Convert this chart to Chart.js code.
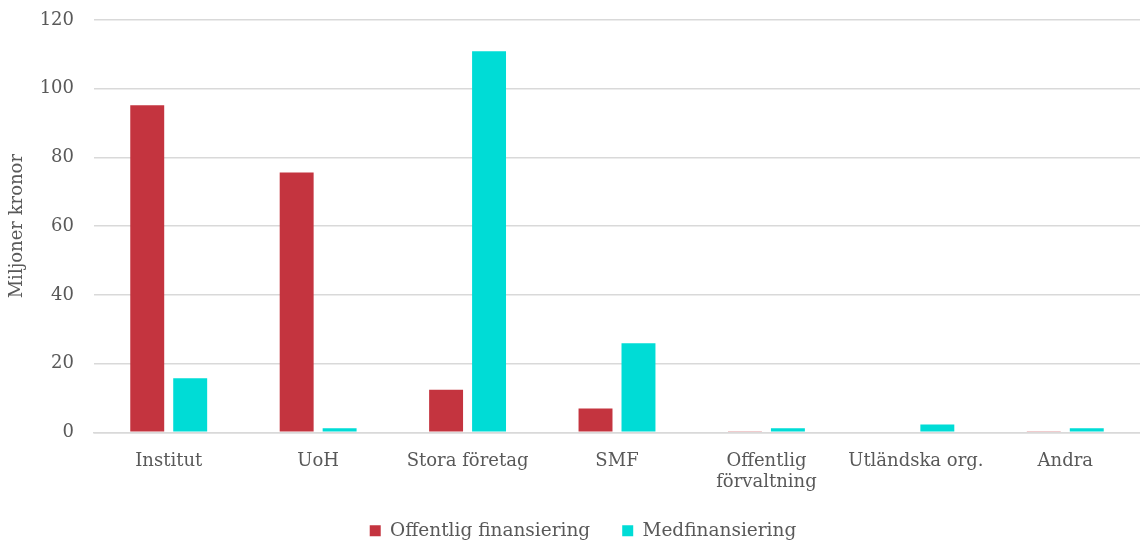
<!DOCTYPE html>
<html>
  <head>
    <meta charset="utf-8">
    <script src="https://cdn.jsdelivr.net/npm/chart.js@4/dist/chart.umd.min.js"></script>
    <style>
      html, body { margin: 0; padding: 0; background: #fff; overflow: hidden; }
      #wrap { width: 1140px; height: 550px; }
    </style>
  </head>
  <body>
    <div id="wrap">
      <canvas id="canvas"></canvas>
    </div>
    <script>
      const categories = ['Institut', 'UoH', 'Stora företag', 'SMF', ['Offentlig', 'förvaltning'], 'Utländska org.', 'Andra'];
      const offentlig = [95.2, 75.6, 12.4, 6.9, 0.3, 0, 0.3];
      const medfinansiering = [15.7, 1.2, 110.9, 25.9, 1.2, 2.3, 1.2];
      const yTicks = [0, 20, 40, 60, 80, 100, 120];

      const textColor = '#595959';
      const serif = '"DejaVu Serif", "Liberation Serif", serif';

      // legend sits a little right of the page centre in the original,
      // and the x labels hang a bit into the legend band
      const tweakLayout = {
        id: 'tweakLayout',
        afterLayout(chart) {
          chart.legend.left += 13;
          chart.legend.right += 13;
          chart.scales.x.bottom += 20;
        },
      };

      new Chart(document.getElementById('canvas').getContext('2d'), {
        type: 'bar',
        data: {
          labels: categories,
          datasets: [
            {
              label: 'Offentlig finansiering',
              data: offentlig,
              backgroundColor: '#C4343F',
              barPercentage: 0.79,
              categoryPercentage: 0.575,
            },
            {
              label: 'Medfinansiering',
              data: medfinansiering,
              backgroundColor: '#00DCD6',
              barPercentage: 0.79,
              categoryPercentage: 0.575,
            },
          ],
        },
        plugins: [tweakLayout],
        options: {
          responsive: true,
          maintainAspectRatio: false,
          animation: false,
          layout: { padding: 0 },
          plugins: {
            legend: {
              position: 'bottom',
              labels: {
                color: textColor,
                font: { family: serif, size: 18.5 },
                boxWidth: 11,
                boxHeight: 11,
                padding: 32,
              },
            },
            tooltip: { enabled: false },
          },
          scales: {
            x: {
              grid: { display: false },
              border: { color: '#D9D9D9', width: 1.5 },
              afterFit: (axis) => {
                axis.height -= 14;
              },
              ticks: {
                color: textColor,
                font: { family: serif, size: 18, lineHeight: 1.2 },
                maxRotation: 0,
                autoSkip: false,
                padding: 10,
              },
            },
            y: {
              min: 0,
              max: 120,
              afterBuildTicks: (axis) => {
                axis.ticks = yTicks.map((v) => ({ value: v }));
              },
              afterFit: (axis) => {
                axis.width = 94;
                axis.paddingTop = 20;
                axis.paddingBottom = 0;
              },
              grid: { color: '#D9D9D9', lineWidth: 1.5, drawTicks: false },
              border: { display: false },
              ticks: {
                color: textColor,
                font: { family: serif, size: 18 },
                padding: 20,
              },
              title: {
                display: true,
                text: 'Miljoner kronor',
                color: textColor,
                font: { family: serif, size: 18 },
                padding: { top: 7, bottom: 0 },
              },
            },
          },
        },
      });
    </script>
  </body>
</html>
